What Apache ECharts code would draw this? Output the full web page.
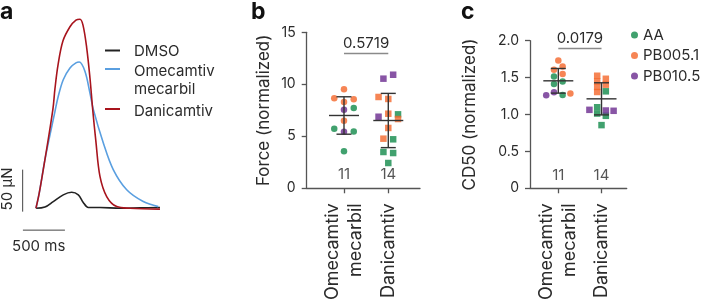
<!DOCTYPE html>
<html>
<head>
<meta charset="utf-8">
<script src="https://cdn.jsdelivr.net/npm/echarts@6/dist/echarts.min.js"></script>
<style>
  html, body { margin: 0; padding: 0; background: #fff; }
  #chart { width: 702px; height: 303px; }
</style>
</head>
<body>
<div id="chart"></div>
<script>
// panel a: twitch traces, [time ms, force µN]
const dmsoTrace = [[0, 0], [107, 1.5], [206, 8], [325, 16], [425, 19], [504, 16], [563, 7], [623, 1], [762, 1], [1000, 0], [1238, 0.5], [1476, 1]];
const omTrace = [[0, 0], [39, 18], [107, 58], [226, 115], [265, 133], [325, 153], [405, 167], [476, 173], [515, 174], [583, 163], [643, 137], [682, 118], [801, 78], [920, 46], [1080, 22], [1277, 8], [1456, 2]];
const daniTrace = [[0, 0], [39, 18], [107, 58], [202, 118], [226, 142], [262, 170], [321, 199], [405, 216], [476, 224], [524, 225], [560, 218], [604, 191], [643, 155], [675, 118], [714, 79], [762, 38], [842, 14], [961, 2], [1119, 0], [1476, -1]];
const scaleTime = 500;   // ms
const scaleForce = 50;   // µN

const groups = ['Omecamtiv\nmecarbil', 'Danicamtiv'];
const strains = ['AA', 'PB005.1', 'PB010.5'];

// panel b: force (normalized)
const forceOmValues = [9.52, 8.65, 8.55, 8.3, 7.71, 7.56, 6.5, 5.73, 5.44, 5.47, 3.57];
const forceOmJitter = [0, -0.22, 0.22, 0, 0.22, 0, 0, -0.22, 0, 0.22, 0];
const forceOmStrain = [1, 1, 1, 1, 0, 2, 1, 0, 2, 0, 0];
const forceDaniValues = [10.54, 10.92, 8.78, 8.59, 7.17, 7.11, 6.88, 6.66, 5.8, 4.77, 4.71, 3.49, 3.39, 2.43];
const forceDaniJitter = [-0.11, 0.11, -0.22, 0, 0, 0.22, -0.22, 0.22, 0, -0.11, 0.11, -0.11, 0.11, 0];
const forceDaniStrain = [2, 2, 1, 1, 1, 0, 2, 1, 1, 1, 0, 0, 0, 0];

// panel c: CD50 (normalized)
const cd50OmValues = [1.731, 1.606, 1.65, 1.548, 1.516, 1.413, 1.448, 1.26, 1.3, 1.265, 1.283];
const cd50OmJitter = [0, -0.1, 0.1, 0.1, -0.1, -0.1, 0.1, -0.28, -0.1, 0.1, 0.28];
const cd50OmStrain = [1, 1, 1, 1, 0, 0, 0, 2, 2, 0, 1];
const cd50DaniValues = [1.525, 1.448, 1.373, 1.305, 1.484, 1.404, 1.314, 1.063, 1.098, 1.013, 0.982, 1.054, 1.05, 0.856];
const cd50DaniJitter = [-0.1, -0.1, -0.1, -0.1, 0.1, 0.1, 0.1, -0.28, -0.1, -0.1, 0.1, 0.1, 0.28, 0];
const cd50DaniStrain = [1, 1, 1, 1, 1, 1, 0, 2, 0, 0, 0, 2, 2, 0];

const pValues = ['0.5719', '0.0179'];

const FONT = 'Inter';
const TEXT = '#2b2b2b';
const AXIS = '#555';
const traceColors = ['#222222', '#5a9fe0', '#a8141d'];
const strainColors = ['#12894a', '#f4672a', '#6a2b8e'];

function mean(a) { return a.reduce((s, v) => s + v, 0) / a.length; }
function sd(a) {
  const m = mean(a);
  return Math.sqrt(a.reduce((s, v) => s + (v - m) * (v - m), 0) / (a.length - 1));
}

const chart = echarts.init(document.getElementById('chart'));
const series = [];

// traces (DMSO at the back, Danicamtiv on top)
[['DMSO', dmsoTrace], ['Omecamtiv mecarbil', omTrace], ['Danicamtiv', daniTrace]].forEach(([name, d], i) => {
  series.push({
    type: 'line', name, xAxisIndex: 0, yAxisIndex: 0, data: d, smooth: 0.35,
    showSymbol: false, z: 2 + i, silent: true,
    lineStyle: { color: traceColors[i], width: 1.6 }
  });
});
// scale bars
series.push({
  type: 'line', xAxisIndex: 0, yAxisIndex: 0, showSymbol: false, silent: true,
  data: [[-158, -4], [-158, -4 + scaleForce]], lineStyle: { color: '#444', width: 1 }
});
series.push({
  type: 'line', xAxisIndex: 0, yAxisIndex: 0, showSymbol: false, silent: true,
  data: [[-155, -26], [-155 + scaleTime, -26]], lineStyle: { color: '#444', width: 1 }
});

function addDotPanel(axisIdx, sets, nY, bracketY, pText) {
  sets.forEach((set, g) => {
    strains.forEach((sName, s) => {
      const pts = [];
      set.values.forEach((v, k) => { if (set.strain[k] === s) pts.push([g + 1 + set.jitter[k], v]); });
      series.push({
        type: 'scatter', name: sName, xAxisIndex: axisIdx, yAxisIndex: axisIdx,
        symbol: g === 0 ? 'circle' : 'rect', symbolSize: 6.5,
        itemStyle: { color: strainColors[s] }, data: pts, z: 2
      });
    });
  });
  // mean ± SD
  series.push({
    type: 'custom', xAxisIndex: axisIdx, yAxisIndex: axisIdx, z: 5, silent: true,
    data: sets.map((set, g) => [g + 1, mean(set.values), sd(set.values)]),
    renderItem: (params, api) => {
      const c = api.coord([api.value(0), api.value(1)]);
      const t = api.coord([api.value(0), api.value(1) + api.value(2)]);
      const b = api.coord([api.value(0), api.value(1) - api.value(2)]);
      const st = { stroke: '#333', lineWidth: 1.4 };
      return {
        type: 'group', children: [
          { type: 'line', shape: { x1: c[0] - 15, y1: c[1], x2: c[0] + 15, y2: c[1] }, style: st },
          { type: 'line', shape: { x1: c[0], y1: t[1], x2: c[0], y2: b[1] }, style: st },
          { type: 'line', shape: { x1: c[0] - 7.5, y1: t[1], x2: c[0] + 7.5, y2: t[1] }, style: st },
          { type: 'line', shape: { x1: c[0] - 7.5, y1: b[1], x2: c[0] + 7.5, y2: b[1] }, style: st }
        ]
      };
    }
  });
  // n labels + p-value bracket
  series.push({
    type: 'scatter', xAxisIndex: axisIdx, yAxisIndex: axisIdx, symbolSize: 0.1, silent: true,
    itemStyle: { color: 'transparent' },
    data: sets.map((set, g) => [g + 1, nY]),
    label: {
      show: true, position: 'inside', color: TEXT, fontFamily: FONT, fontSize: 15,
      formatter: p => String(sets[p.dataIndex].values.length)
    },
    markLine: {
      silent: true, symbol: 'none', animation: false,
      lineStyle: { color: '#8a8a8a', width: 1.4, type: 'solid' },
      label: { show: true, position: 'insideMiddleTop', distance: 2, formatter: pText, color: TEXT, fontFamily: FONT, fontSize: 15 },
      data: [[{ coord: [1, bracketY] }, { coord: [2, bracketY] }]]
    }
  });
}

addDotPanel(1, [
  { values: forceOmValues, jitter: forceOmJitter, strain: forceOmStrain },
  { values: forceDaniValues, jitter: forceDaniJitter, strain: forceDaniStrain }
], 1.28, 13, pValues[0]);
addDotPanel(2, [
  { values: cd50OmValues, jitter: cd50OmJitter, strain: cd50OmStrain },
  { values: cd50DaniValues, jitter: cd50DaniJitter, strain: cd50DaniStrain }
], 0.17, 1.898, pValues[1]);

const catAxis = (grid, min, max) => ({
  type: 'value', gridIndex: grid, min, max,
  splitLine: { show: false },
  axisLine: { show: true, lineStyle: { color: AXIS, width: 1.3 } },
  axisTick: { show: true, customValues: [1, 2], length: 5, lineStyle: { color: AXIS, width: 1.3 } },
  axisLabel: {
    customValues: [1, 2], rotate: 90, margin: 15, color: TEXT, fontFamily: FONT, fontSize: 18, lineHeight: 23,
    formatter: v => groups[Math.round(v) - 1]
  }
});
const valAxis = (grid, max, interval, name, gap, fmt) => ({
  type: 'value', gridIndex: grid, min: 0, max, interval,
  splitLine: { show: false },
  axisLine: { show: true, lineStyle: { color: AXIS, width: 1.3 } },
  axisTick: { show: true, length: 5, lineStyle: { color: AXIS, width: 1.3 } },
  axisLabel: { color: TEXT, fontFamily: FONT, fontSize: 14, margin: 11, formatter: fmt },
  name, nameLocation: 'middle', nameGap: gap,
  nameTextStyle: { color: TEXT, fontFamily: FONT, fontSize: 17 }
});

const letter = (text, x) => ({
  type: 'text', left: x, top: 1,
  style: { text, font: 'bold 23px ' + FONT, fill: '#111' }
});
const legA = [['DMSO', 51, 50.5], ['Omecamtiv\nmecarbil', 80, 69], ['Danicamtiv', 111, 109]];
const graphic = [letter('a', 0), letter('b', 251), letter('c', 461)];
legA.forEach(([t, ty, ly], i) => {
  graphic.push({ type: 'line', shape: { x1: 105, y1: ly, x2: 120, y2: ly }, style: { stroke: traceColors[i], lineWidth: 2 } });
  graphic.push({
    type: 'text', x: 134, y: ty,
    style: { text: t, fontFamily: FONT, fontSize: 15, lineHeight: 18, fill: TEXT, verticalAlign: 'middle' }
  });
});
graphic.push({
  type: 'text', x: 7.5, y: 189, rotation: Math.PI / 2,
  style: { text: scaleForce + ' µN', fontFamily: FONT, fontSize: 15, fill: TEXT, align: 'center', verticalAlign: 'middle' }
});
graphic.push({
  type: 'text', x: 38.7, y: 246,
  style: { text: scaleTime + ' ms', fontFamily: FONT, fontSize: 15, fill: TEXT, align: 'center', verticalAlign: 'middle' }
});

chart.setOption({
  animation: false,
  textStyle: { fontFamily: FONT },
  grid: [
    { left: 22.5, top: 15, width: 137.8, height: 218.5 },
    { left: 306.7, top: 32.3, width: 113.3, height: 156 },
    { left: 530, top: 40.7, width: 96.7, height: 148.6 }
  ],
  xAxis: [
    { type: 'value', gridIndex: 0, min: -160, max: 1480, show: false },
    catAxis(1, 0.158, 2.716),
    catAxis(2, 0.345, 2.583)
  ],
  yAxis: [
    { type: 'value', gridIndex: 0, min: -30, max: 230, show: false },
    valAxis(1, 15, 5, 'Force (normalized)', 34),
    valAxis(2, 2, 0.5, 'CD50 (normalized)', 52, v => (v === 0 ? '0' : v.toFixed(1)))
  ],
  legend: {
    data: strains.map(n => ({ name: n, icon: 'circle' })),
    orient: 'vertical', left: 626, top: 22, itemWidth: 7, itemHeight: 7, itemGap: 4.5,
    selectedMode: false,
    textStyle: { color: TEXT, fontFamily: FONT, fontSize: 15, lineHeight: 16 }
  },
  graphic,
  series
});
</script>
</body>
</html>
